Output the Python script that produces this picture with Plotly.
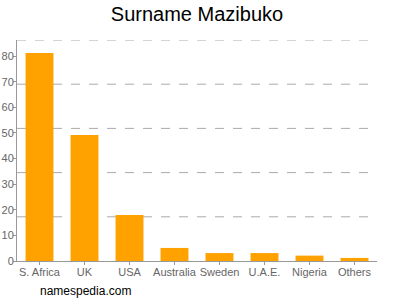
import plotly.graph_objects as go

countries = ["S. Africa", "UK", "USA", "Australia", "Sweden", "U.A.E.", "Nigeria", "Others"]
values = [81.2, 49.2, 18.0, 5.1, 3.1, 3.1, 2.1, 1.2]
y_ticks = [0, 10, 20, 30, 40, 50, 60, 70, 80]
y_max = 86.3
grid_count = 5

fig = go.Figure(go.Bar(x=countries, y=values, marker_color="#FFA200", marker_line_width=0))

shapes = []
for k in range(1, grid_count + 1):
    yv = y_max * k / grid_count
    shapes.append(dict(type="line", xref="paper", yref="y", x0=0, x1=1, y0=yv, y1=yv,
                       line=dict(color="#AAAAAA", width=1, dash="dash"), layer="below"))

fig.update_layout(
    width=400, height=300,
    margin=dict(l=17, r=23, t=40, b=39, autoexpand=False),
    paper_bgcolor="white", plot_bgcolor="white",
    font=dict(family="Liberation Sans, Arial, sans-serif", size=11, color="#666666"),
    title=dict(text="Surname Mazibuko", x=0.4925, xanchor="center", y=0.953, yanchor="middle",
               font=dict(size=20, color="#000000")),
    bargap=0.38,
    showlegend=False,
    shapes=shapes,
    xaxis=dict(showline=True, linecolor="#999999", linewidth=1, ticks="outside", ticklen=3,
               tickcolor="#999999", showgrid=False, tickangle=0, automargin=False,
               ticklabelstandoff=-2, tickfont=dict(size=11, color="#666666")),
    yaxis=dict(range=[0, y_max], tickvals=y_ticks, showline=True, linecolor="#999999", linewidth=1,
               ticks="outside", ticklen=3, tickcolor="#999999", showgrid=False, zeroline=False,
               automargin=False, ticklabelstandoff=-3, tickfont=dict(size=11, color="#666666")),
    annotations=[dict(text="namespedia.com", xref="paper", yref="paper", x=(85 - 17) / 360,
                      y=(300 - 291 - 39) / 221, xanchor="center", yanchor="middle", showarrow=False,
                      font=dict(size=12, color="#000000"))],
)

fig.write_html("out.html")
